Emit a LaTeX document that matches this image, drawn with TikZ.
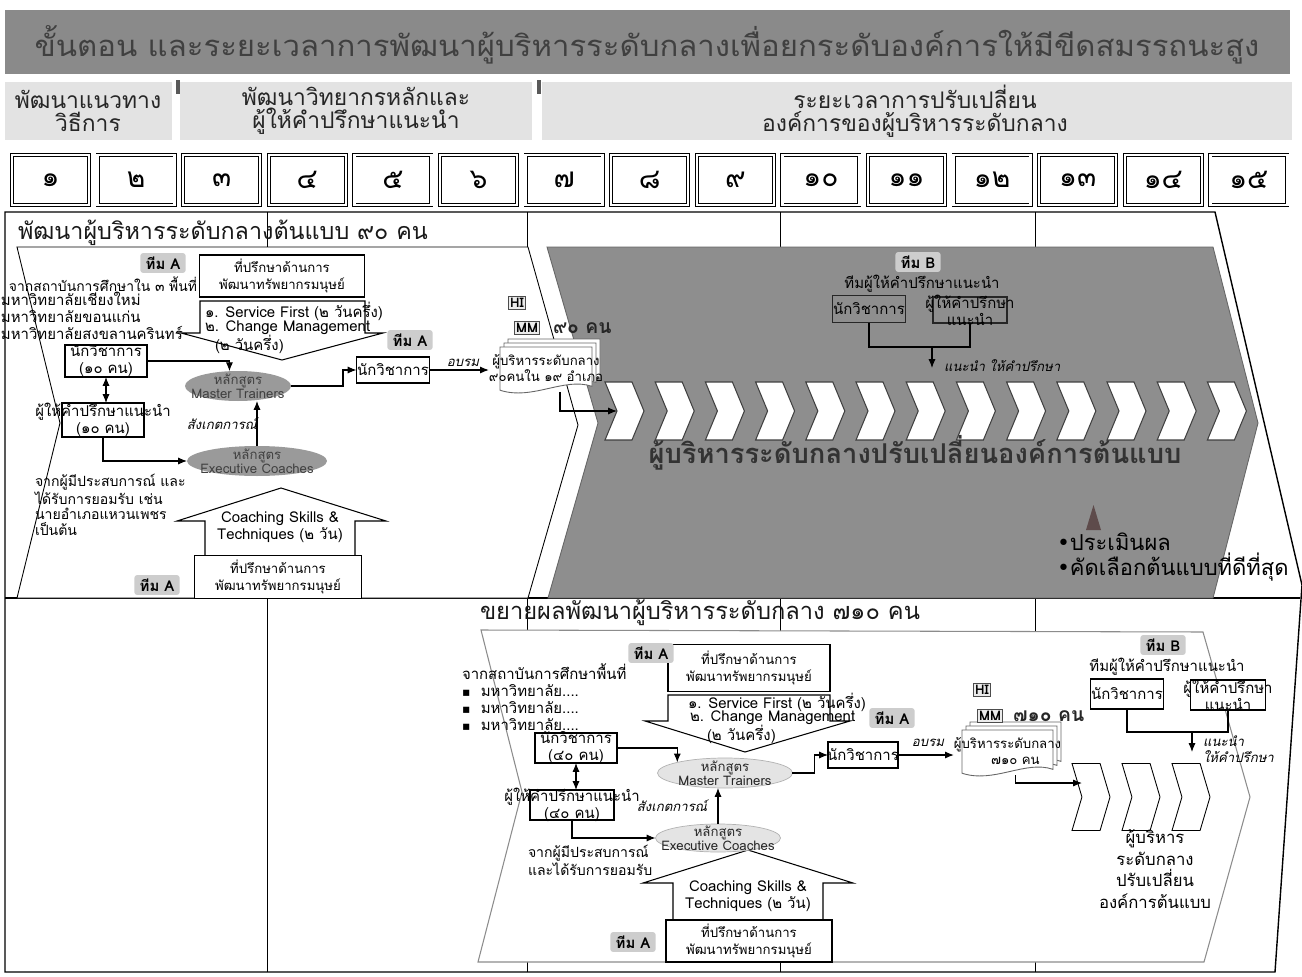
\documentclass[tikz,border=0pt]{standalone}
\usepackage{fontspec}
\setmainfont[Script=Thai]{Loma}
\newfontfamily\itfont[Script=Thai,FakeSlant=0.22]{Loma}
\newfontfamily\symfont{DejaVu Sans}
\usetikzlibrary{shapes.geometric,shapes.symbols,arrows.meta,calc}
\definecolor{bargrey}{HTML}{8A8A8A}
\definecolor{phasegrey}{HTML}{E3E3E3}
\definecolor{areagrey}{HTML}{8E8E8E}
\definecolor{taggrey}{HTML}{CDCDCD}
\definecolor{ellgrey}{HTML}{9A9A9A}
\definecolor{ellgreyL}{HTML}{E4E4E4}
\definecolor{triang}{HTML}{5E4B4B}
\newcommand{\fntBody}{\fontsize{8.5}{9.6}\selectfont}
\newcommand{\fntSmall}{\fontsize{8}{8.8}\selectfont}
\newcommand{\fntHR}{\fontsize{7.5}{9.5}\selectfont}
\newcommand{\fntTag}{\fontsize{8.5}{10}\selectfont\bfseries}
\newcommand{\fntIt}{\fontsize{7.5}{9}\itfont}
\newcommand{\fntEll}{\fontsize{7.5}{7.8}\selectfont}
\newcommand{\fntNum}{\fontsize{16}{18}\selectfont}
\newcommand{\fntIcon}{\fontsize{7.5}{8}\selectfont\bfseries}
\newcommand{\fntKon}{\fontsize{11}{12}\selectfont\bfseries}
\newcommand{\docsheet}[4]{%
  \draw[fill=white, draw=black!60, line width=0.5pt] (#1,#2) -- ({#1+#3},#2) -- ({#1+#3},{#2+0.82*#4})
   .. controls ({#1+0.7*#3},{#2+0.62*#4}) and ({#1+0.35*#3},{#2+1.12*#4}) .. (#1,{#2+0.9*#4}) -- cycle;}
\begin{document}
\begin{tikzpicture}[x=0.02cm,y=-0.02cm,
  every node/.style={inner sep=0pt, outer sep=0pt},
  arr/.style={-{Latex[length=5pt,width=4pt]}, line width=0.6pt},
  dblarr/.style={{Latex[length=5pt,width=4pt]}-{Latex[length=5pt,width=4pt]}, line width=0.6pt},
  ln/.style={line width=0.6pt},
  tag/.style={fill=taggrey, font=\fntTag, inner xsep=3pt, inner ysep=2pt, rounded corners=1.5pt},
  fr/.style={draw, line width=0.6pt, fill=white},
  lt/.style={align=center, font=\fntBody},
  hrt/.style={align=center, font=\fntHR},
  txt/.style={font=\fntBody, align=left},
  itl/.style={font=\fntIt},
  ell/.style={ellipse},
  elt/.style={align=center, font=\fntEll},
  numbox/.style={draw, double, double distance=1.3pt, line width=0.5pt, minimum width=1.54cm, minimum height=1.0cm, font=\fntNum},
  phtxt/.style={align=center, font=\fontsize{13}{12.8}\selectfont, text=black!85},
  chevU/.style={signal, signal to=east, signal from=west, draw=black!75, fill=white, line width=0.6pt, minimum width=0.78cm, minimum height=1.16cm, signal pointer angle=135},
  chevL/.style={signal, signal to=east, signal from=west, draw=black, fill=white, line width=0.5pt, minimum width=0.76cm, minimum height=1.34cm, signal pointer angle=147},
  icon/.style={draw=black!70, fill=black!8, font=\fntIcon, inner sep=1pt},
]
\useasboundingbox (0,0) rectangle (1302,977);
\fill[white] (0,0) rectangle (1302,977);

% ---------- title bar
\fill[bargrey] (5,10) rectangle (1290,74);
\node[text=black!75] (title) at (647,45) {\resizebox{24.5cm}{0.62cm}{\fontsize{20}{24}\selectfont ขั้นตอน และระยะเวลาการพัฒนาผู้บริหารระดับกลางเพื่อยกระดับองค์การให้มีขีดสมรรถนะสูง}};

% ---------- phase row
\fill[phasegrey] (5,82) rectangle (172,140);
\fill[phasegrey] (180,82) rectangle (532,140);
\fill[phasegrey] (542,82) rectangle (1292,140);
\fill[black!65] (176,80) rectangle (180,94);
\fill[black!65] (537,80) rectangle (541,94);
\node[phtxt] (ph1) at (88,111) {พัฒนาแนวทาง\\วิธีการ};
\node[phtxt] (ph2) at (356,111) {พัฒนาวิทยากรหลักและ\\ผู้ให้คำปรึกษาแนะนำ};
\node[phtxt] (ph3) at (915,111) {ระยะเวลาการปรับเปลี่ยน\\องค์การของผู้บริหารระดับกลาง};

% ---------- month numbers
\foreach \i/\d in {1/๑,2/๒,3/๓,4/๔,5/๕,6/๖,7/๗,8/๘,9/๙,10/๑๐,11/๑๑,12/๑๒,13/๑๓,14/๑๔,15/๑๕}
  \node[numbox] (num\i) at ({50.5+85.6*(\i-1)},180) {\d};

% ---------- frame and column lines
\foreach \x in {267,527,780,1035} \draw[line width=0.5pt] (\x,212) -- (\x,972);
\draw[line width=0.8pt] (5,212) -- (1215,212) -- (1302,585) -- (1275,972) -- (5,972) -- cycle;
\draw[line width=0.8pt] (5,598) -- (1300,598);

% ---------- section titles
\node[anchor=west, text=black!90] (sec1) at (18,233) {\resizebox{8.2cm}{!}{\fontsize{14}{16}\selectfont พัฒนาผู้บริหารระดับกลางต้นแบบ ๙๐ คน}};

% ---------- upper white chevron and grey chevron
\draw[fill=white, line width=0.5pt] (17,247) -- (528,247) -- (578,425) -- (528,598) -- (17,598) -- (60,423) -- cycle;
\draw[fill=areagrey, draw=black!60, line width=0.5pt] (547,247) -- (1213,247) -- (1258,423) -- (1213,598) -- (548,598) -- (598,423) -- cycle;

% ---------- upper-left content
\draw[fill=white, line width=0.6pt] (200,301) -- (365,301) -- (365,333) -- (383,333) -- (282,360) -- (181,333) -- (200,333) -- cycle;
\node[fr, minimum width=3.3cm, minimum height=0.84cm, label={[hrt]center:{ที่ปรึกษาด้านการ\\พัฒนาทรัพยากรมนุษย์}}] (hr1) at (282,276) {};
\node[tag] (tA1) at (163,263) {ทีม A};
\node[txt, anchor=west] (da1a) at (205,311) {๑. Service First (๒ วันครึ่ง)};
\node[txt, anchor=west] (da1b) at (205,328) {๒. Change Management};
\node[txt, anchor=west] (da1c) at (215,344) {(๒ วันครึ่ง)};

\node[txt, font=\fontsize{7.9}{9.6}\selectfont, anchor=east] (lt1) at (197,284) {จากสถาบันการศึกษาใน ๓ พื้นที่};
\node[txt, anchor=north west] (lt2) at (1,292) {มหาวิทยาลัยเชียงใหม่\\มหาวิทยาลัยขอนแก่น\\มหาวิทยาลัยสงขลานครินทร์};

\node[fr, minimum width=1.64cm, minimum height=0.64cm, label={[lt]center:{นักวิชาการ\\(๑๐ คน)}}] (n1) at (106,361) {};
\node[fr, minimum width=1.64cm, minimum height=0.68cm, label={[lt]center:{ผู้ให้คำปรึกษาแนะนำ\\(๑๐ คน)}}] (c1) at (103,420) {};
\node[ell, fill=ellgrey, minimum width=2.12cm, minimum height=0.6cm, label={[elt, text=black!75]center:{หลักสูตร\\Master Trainers}}] (mt1) at (238,386) {};

\draw[fill=white, line width=0.6pt] (205,555) -- (205,521) -- (177,521) -- (281,488) -- (386,521) -- (355,521) -- (355,555);
\node[ell, fill=ellgrey, minimum width=2.8cm, minimum height=0.6cm, label={[elt, text=black!75]center:{หลักสูตร\\Executive Coaches}}] (ec1) at (257,461) {};
\node[lt] (ua1t) at (280,527) {Coaching Skills \&\\Techniques (๒ วัน)};
\node[fr, minimum width=3.34cm, minimum height=0.86cm, label={[hrt]center:{ที่ปรึกษาด้านการ\\พัฒนาทรัพยากรมนุษย์}}] (hr2) at (278,577) {};
\node[tag] (tA2) at (157,585) {ทีม A};
\node[txt, font=\fntSmall, anchor=north west] (lt3) at (35,474) {จากผู้มีประสบการณ์ และ\\ได้รับการยอมรับ เช่น\\นายอำเภอแหวนเพชร\\เป็นต้น};
\node[itl] (obs1) at (222,424) {สังเกตการณ์};

\draw[arr] (n1.east) -| (mt1.120);
\draw[dblarr] (n1.south) -- (n1.south |- c1.north);
\draw[arr] (c1.south) |- (ec1.west);
\draw[arr] (ec1.north) -- (ec1.north |- mt1.south);

\node[fr, minimum width=1.46cm, minimum height=0.52cm, label={[lt]center:{นักวิชาการ}}] (n2) at (393,370) {};
\node[tag] (tA3) at (410,340) {ทีม A};
\draw[arr] (mt1.east) -- ++(52,0) |- (n2.west);
\node[itl] (tr1) at (463,363) {อบรม};

\docsheet{508}{339}{92}{48}
\docsheet{504}{343}{92}{48}
\docsheet{500}{347}{92}{48}
\node[minimum width=1.84cm, minimum height=0.96cm, align=center, font=\fontsize{7.5}{9}\selectfont] (D1) at (546,368) {ผู้บริหารระดับกลาง\\๙๐คนใน ๑๙ อำเภอ};
\draw[arr] (n2.east) -- (D1.west |- n2.east);
\node[icon] (hi1) at (517,303) {HI};
\node[icon] (mm1) at (527,328) {MM};
\node[anchor=west, font=\fntKon, text=black!85] (k90) at (553,328) {๙๐ คน};

% ---------- upper grey content
\foreach \i in {1,...,13}
  \node[chevU] (cu\i) at ({624.5+50.2*(\i-1)},411) {};
\draw[arr] ([xshift=0.28cm]D1.south) |- (cu1.west);

\node[tag] (tB1) at (918,262) {ทีม B};
\node[font=\fntBody] (tmB1) at (922,284) {ทีมผู้ให้คำปรึกษาแนะนำ};
\node[draw=black!85, line width=0.6pt, minimum width=1.46cm, minimum height=0.54cm, label={[lt]center:{นักวิชาการ}}] (nb1) at (869,309) {};
\node[draw=black!85, line width=0.6pt, minimum width=1.48cm, minimum height=0.52cm, label={[lt]center:{ผู้ให้คำปรึกษา\\แนะนำ}}] (cb1) at (970,310) {};
\coordinate (jb1) at (932,347);
\draw[ln] (nb1.south) |- (jb1) -| (cb1.south);
\draw[arr] (jb1) -- ++(0,21);
\node[itl, anchor=west] (adv1) at (944,366) {แนะนำ ให้คำปรึกษา};

\node[text=black!80] (big) at (915,453) {\resizebox{10.66cm}{!}{\bfseries ผู้บริหารระดับกลางปรับเปลี่ยนองค์การต้นแบบ}};
\fill[triang] (1086,530) -- (1101,530) -- (1093.5,505) -- cycle;
\node[anchor=west, align=left, font=\fontsize{12.5}{14.2}\selectfont] (bul) at (1057,557) {{\symfont •}ประเมินผล\\{\symfont •}คัดเลือกต้นแบบที่ดีที่สุด};

% ---------- lower section
\node[anchor=west, text=black!90] (sec2) at (480,613) {\resizebox{8.8cm}{!}{\fontsize{14}{16}\selectfont ขยายผลพัฒนาผู้บริหารระดับกลาง ๗๑๐ คน}};
\draw[fill=white, draw=black!45, line width=0.6pt] (481,630) -- (1203,632) -- (1250,797) -- (1204,962) -- (478,962) -- (522,792) -- cycle;

\draw[fill=white, line width=0.6pt] (668,695) -- (830,695) -- (830,721) -- (850,721) -- (745,752) -- (645,721) -- (668,721) -- cycle;
\node[fr, minimum width=3.24cm, minimum height=0.94cm, label={[hrt]center:{ที่ปรึกษาด้านการ\\พัฒนาทรัพยากรมนุษย์}}] (hr3) at (749,668) {};
\node[tag] (tA4) at (651,653) {ทีม A};
\node[txt, anchor=west] (da2a) at (688,702) {๑. Service First (๒ วันครึ่ง)};
\node[txt, anchor=west] (da2b) at (690,718) {๒. Change Management};
\node[txt, anchor=west] (da2c) at (707,734) {(๒ วันครึ่ง)};

\node[txt, anchor=north west] (lt4) at (462,664) {จากสถาบันการศึกษาพื้นที่\\{\symfont\scriptsize ▪}\hspace{6pt}มหาวิทยาลัย....\\{\symfont\scriptsize ▪}\hspace{6pt}มหาวิทยาลัย....\\{\symfont\scriptsize ▪}\hspace{6pt}มหาวิทยาลัย....};

\node[fr, minimum width=1.64cm, minimum height=0.6cm, label={[lt]center:{นักวิชาการ\\(๔๐ คน)}}] (n3) at (576,748) {};
\node[fr, minimum width=1.68cm, minimum height=0.6cm, label={[lt]center:{ผู้ให้คำปรึกษาแนะนำ\\(๔๐ คน)}}] (c3) at (572,805) {};
\node[ell, fill=ellgreyL, draw=black!30, minimum width=2.7cm, minimum height=0.6cm, label={[elt, text=black!85]center:{หลักสูตร\\Master Trainers}}] (mt2) at (725,773) {};

\draw[fill=white, line width=0.6pt] (673,920) -- (673,883) -- (643,883) -- (748,850) -- (853,883) -- (823,883) -- (823,920);
\node[ell, fill=ellgreyL, draw=black!30, minimum width=2.5cm, minimum height=0.56cm, label={[elt, text=black!85]center:{หลักสูตร\\Executive Coaches}}] (ec2) at (718,838) {};
\node[lt] (ua2t) at (748,896) {Coaching Skills \&\\Techniques (๒ วัน)};
\node[fr, minimum width=3.32cm, minimum height=0.84cm, label={[hrt]center:{ที่ปรึกษาด้านการ\\พัฒนาทรัพยากรมนุษย์}}] (hr4) at (749,941) {};
\node[tag] (tA5) at (633,942) {ทีม A};
\node[txt, font=\fntSmall, anchor=north west] (lt5) at (528,845) {จากผู้มีประสบการณ์\\และได้รับการยอมรับ};
\node[itl] (obs2) at (672,806) {สังเกตการณ์};

\draw[arr] (n3.east) -| (mt2.north west);
\draw[dblarr] (n3.south) -- (n3.south |- c3.north);
\draw[arr] (c3.south) |- (ec2.west);
\draw[arr] (ec2.north) -- (ec2.north |- mt2.south);

\node[fr, minimum width=1.4cm, minimum height=0.52cm, label={[lt]center:{นักวิชาการ}}] (n4) at (863,755) {};
\node[tag] (tA6) at (892,718) {ทีม A};
\draw[arr] (mt2.east) -- ++(22,0) |- (n4.west);
\node[itl] (tr2) at (928,743) {อบรม};

\docsheet{970}{722}{91}{48}
\docsheet{966}{726}{91}{48}
\docsheet{962}{730}{91}{48}
\node[minimum width=1.82cm, minimum height=0.96cm, align=center, font=\fontsize{7.5}{9}\selectfont] (D2) at (1007.5,751) {ผู้บริหารระดับกลาง\\\hspace*{1.2em}๗๑๐ คน};
\draw[arr] (n4.east) -- (D2.west |- n4.east);
\node[icon] (hi2) at (982,690) {HI};
\node[icon] (mm2) at (990,716) {MM};
\node[anchor=west, font=\fntKon, text=black!85] (k710) at (1013,716) {๗๑๐ คน};

\foreach \i in {1,2,3}
  \node[chevL] (L\i) at ({1091+50*(\i-1)},797) {};
\draw[arr] ([xshift=0.16cm]D2.south) |- ([yshift=0.28cm]L1.west);
\node[align=center, font=\fontsize{9.5}{12.3}\selectfont] (lres) at (1155,869) {ผู้บริหาร\\ระดับกลาง\\ปรับเปลี่ยน\\องค์การต้นแบบ};

\node[tag] (tB2) at (1163,645) {ทีม B};
\node[font=\fntBody] (tmB2) at (1167,667) {ทีมผู้ให้คำปรึกษาแนะนำ};
\node[fr, minimum width=1.46cm, minimum height=0.6cm, label={[lt]center:{นักวิชาการ}}] (nb2) at (1127,694) {};
\node[fr, minimum width=1.5cm, minimum height=0.6cm, label={[lt]center:{ผู้ให้คำปรึกษา\\แนะนำ}}] (cb2) at (1228,695) {};
\coordinate (jb2) at (1192,732);
\draw[ln] (nb2.south) |- (jb2) -| (cb2.south);
\draw[arr] (jb2) -- ++(0,20);
\node[itl, anchor=west, align=left] (adv2) at (1203,749) {แนะนำ\\ให้คำปรึกษา};
\end{tikzpicture}
\end{document}
